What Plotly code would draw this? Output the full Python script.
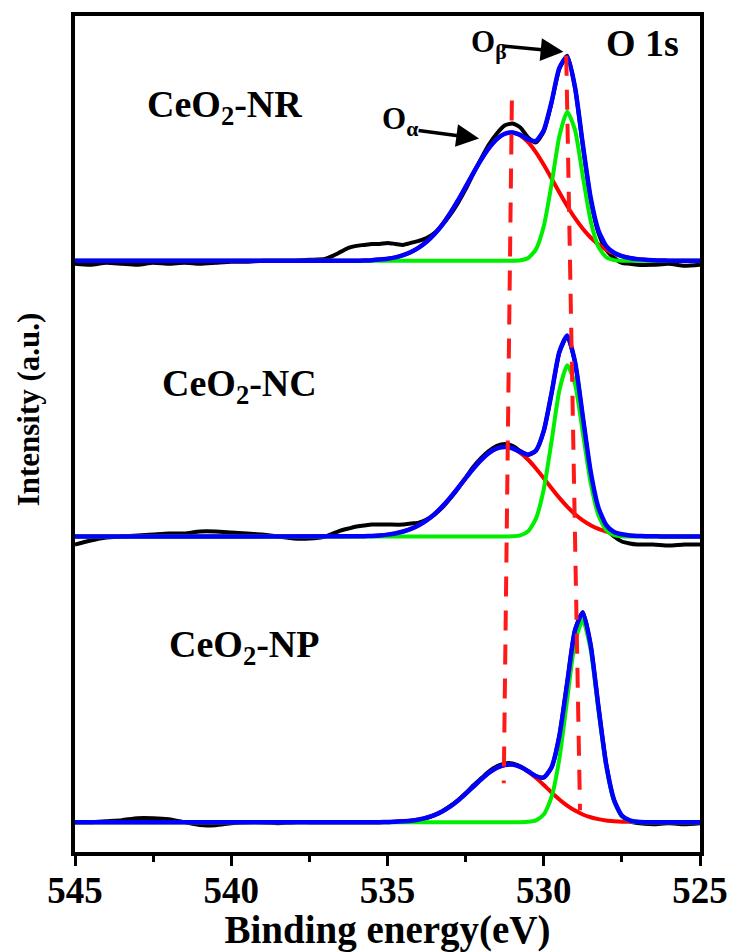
import plotly.graph_objects as go

# ---------------- data (heights above each spectrum's baseline, a.u.) ----------------
samples = ["CeO<sub>2</sub>-NR", "CeO<sub>2</sub>-NC", "CeO<sub>2</sub>-NP"]
offsets = [594, 317, 30]

# common energy grid for the fitted components (eV)
fit_x = [545.0, 536.00, 535.75, 535.50, 535.25, 535.00, 534.75, 534.50, 534.25, 534.00,
         533.75, 533.50, 533.25, 533.00, 532.75, 532.50, 532.25, 532.00, 531.75,
         531.50, 531.25, 531.00, 530.75, 530.50, 530.25, 530.00, 529.75, 529.50,
         529.25, 529.00, 528.75, 528.50, 528.25, 528.00, 527.75, 527.50, 527.25,
         527.00, 526.75, 526.50, 526.25, 526.00, 525.0]

# ---- CeO2-NR ----
nr_red = [0, 0.2, 0.4, 0.7, 1.3, 2.1, 3.5, 5.7, 8.8, 13.2, 19.1, 26.7, 36.2, 47.6, 60.4,
          74.3, 88.4, 101.8, 113.4, 122.3, 127.7, 129.0, 126.0, 119.2, 109.0, 96.6, 82.8,
          68.6, 55.1, 42.8, 32.2, 23.4, 16.5, 11.2, 7.4, 4.7, 2.9, 1.7, 1.0, 0.6, 0.3, 0.2, 0]
nr_green = [0, 0, 0, 0, 0, 0, 0, 0, 0, 0, 0, 0, 0, 0, 0, 0, 0, 0, 0, 0, 0, 0,
            0.5, 2.8, 11.5, 34.7, 76.9, 125.3, 149.9, 131.6, 84.9, 40.2, 14.0, 3.6, 0.7,
            0.1, 0, 0, 0, 0, 0, 0, 0]
nr_blue = [0, 0.2, 0.4, 0.7, 1.3, 2.1, 3.5, 5.7, 8.8, 13.2, 19.1, 26.7, 36.2, 47.6, 60.4,
           74.3, 88.4, 101.8, 113.4, 122.3, 127.7, 129.0, 126.5, 122.0, 120.5, 131.3, 159.7,
           193.9, 205.0, 174.4, 117.1, 63.6, 30.5, 14.8, 8.1, 4.8, 2.9, 1.7, 1.0, 0.6, 0.3,
           0.2, 0]
nr_exp_x = [545, 544.5, 544, 543.5, 543, 542.5, 542, 541.5, 541, 540.5, 540, 539.5, 539,
            538.5, 538, 537.5, 537, 536.75, 536.5, 536.25, 536, 535.75, 535.5, 535.25, 535,
            534.75, 534.5, 534.25, 534, 533.75, 533.5, 533.25, 533, 532.75, 532.5, 532.25,
            532, 531.75, 531.5, 531.25, 531, 530.75, 530.5, 530.25, 530, 529.75, 529.5,
            529.25, 529, 528.75, 528.5, 528.25, 528, 527.75, 527.5, 527.25, 527, 526.5, 526,
            525.5, 525]
nr_exp = [-3, -4, -2, -3, -4, -2, -3, -2, -3, -2, -1, -1, 0, 0, 0, 1, 2, 5, 9, 13, 15, 16,
          17, 17, 18, 17, 16, 18, 20, 23, 28, 36, 46, 58, 72, 88, 103, 117, 128, 136, 138,
          134, 124, 119, 130, 159, 193, 206, 174, 116, 62, 28, 11, 3, -2, -3, -4, -4, -3,
          -5, -4]

# ---- CeO2-NC ----
nc_red = [0, 0.2, 0.3, 0.6, 1.1, 1.9, 3.1, 5.0, 7.6, 11.3, 16.2, 22.4, 30.0, 38.8, 48.5,
          58.6, 68.4, 77.1, 84.0, 88.5, 90.0, 88.5, 84.0, 77.1, 68.4, 58.6, 48.5, 38.8, 30.0,
          22.4, 16.2, 11.3, 7.6, 5.0, 3.1, 1.9, 1.1, 0.6, 0.3, 0.2, 0.1, 0, 0]
nc_green = [0, 0, 0, 0, 0, 0, 0, 0, 0, 0, 0, 0, 0, 0, 0, 0, 0, 0, 0, 0, 0, 0.2,
            1.1, 5.2, 18.0, 47.5, 95.6, 146.9, 172.0, 153.3, 104.4, 54.1, 21.4, 6.5, 1.5,
            0.3, 0, 0, 0, 0, 0, 0, 0]
nc_blue = [0, 0.2, 0.3, 0.6, 1.1, 1.9, 3.1, 5.0, 7.6, 11.3, 16.2, 22.4, 30.0, 38.8, 48.5,
           58.6, 68.4, 77.1, 84.0, 88.5, 90.0, 88.7, 85.1, 82.3, 86.4, 106.1, 144.1, 185.7,
           202.0, 175.7, 120.6, 65.4, 29.0, 11.5, 4.6, 2.2, 1.1, 0.6, 0.3, 0.2, 0.1, 0, 0]
nc_exp_x = [545, 544.75, 544.5, 544, 543.5, 543, 542.5, 542, 541.5, 541, 540.5, 540, 539.5,
            539, 538.5, 538, 537.5, 537, 536.75, 536.5, 536.25, 536, 535.75, 535.5, 535,
            534.5, 534.25, 534, 533.75, 533.5, 533.25, 533, 532.75, 532.5, 532.25, 532,
            531.75, 531.5, 531.25, 531, 530.75, 530.5, 530.25, 530, 529.75, 529.5, 529.25,
            529, 528.75, 528.5, 528.25, 528, 527.75, 527.5, 527.25, 527, 526.5, 526, 525.5,
            525]
nc_exp = [-8, -6, -4, -1, 0, 1, 2, 3, 3, 5, 5, 4, 3, 2, 0, -2, -2, 0, 3, 6, 8, 10, 11, 12,
          12, 12, 13, 14, 17, 22, 29, 38, 48, 59, 70, 79, 86, 91, 93, 91, 86, 82, 86, 106,
          144, 185, 201, 175, 119, 63, 26, 8, 0, -5, -7, -8, -8, -9, -8, -8]

# ---- CeO2-NP ----
np_red = [0, 0, 0, 0, 0, 0.2, 0.4, 0.9, 1.5, 2.7, 4.5, 7.1, 10.7, 15.5, 21.5, 28.4, 35.8,
          43.1, 49.7, 54.7, 57.5, 57.8, 55.5, 50.9, 44.5, 37.3, 29.8, 22.8, 16.6, 11.6, 7.7,
          4.9, 3.0, 1.7, 1.0, 0.5, 0.3, 0.1, 0, 0, 0, 0, 0]
np_green = [0, 0, 0, 0, 0, 0, 0, 0, 0, 0, 0, 0, 0, 0, 0, 0, 0, 0, 0, 0, 0, 0, 0,
            0.3, 1.8, 7.6, 25.3, 63.8, 123.2, 181.0, 203.0, 173.3, 112.8, 56.0, 21.3, 6.1,
            1.4, 0.2, 0, 0, 0, 0, 0]
np_blue = [0, 0, 0, 0, 0, 0.2, 0.4, 0.9, 1.5, 2.7, 4.5, 7.1, 10.7, 15.5, 21.5, 28.4, 35.8,
           43.1, 49.7, 54.7, 57.5, 57.8, 55.5, 51.2, 46.3, 44.9, 55.1, 86.6, 139.8, 192.6,
           210.7, 178.2, 115.8, 57.7, 22.3, 6.6, 1.7, 0.3, 0, 0, 0, 0, 0]
np_exp_x = [545, 544.5, 544, 543.5, 543, 542.5, 542, 541.5, 541, 540.5, 540, 539.5, 539,
            538.5, 538, 537.5, 537, 536.5, 536, 535.5, 535, 534.5, 534, 533.75, 533.5,
            533.25, 533, 532.75, 532.5, 532.25, 532, 531.75, 531.5, 531.25, 531, 530.75,
            530.5, 530.25, 530, 529.75, 529.5, 529.25, 529, 528.75, 528.5, 528.25, 528,
            527.75, 527.5, 527.25, 527, 526.5, 526, 525.5, 525]
np_exp = [0, 0, 1, 2, 4, 4, 3, 0, -3, -3, -1, 0, 0, -1, 0, 0, 0, 0, 0, 0, 0, 1, 2, 4, 7,
          11, 16, 22, 29, 37, 44, 51, 56, 59, 59, 56, 51, 46, 45, 55, 87, 140, 193, 211,
          178, 116, 58, 22, 6, 1, -1, -2, -1, -2, -1]

# guide lines for O_alpha and O_beta positions (eV, y)
oa_line_x = [531.02, 531.28]
oa_line_y = [755, 69]
ob_line_x = [529.28, 528.84]
ob_line_y = [800, 42]

x_ticks = [545, 540, 535, 530, 525]

# ---------------- figure ----------------
FONT = "'Liberation Serif', 'Times New Roman', Times, serif"
fig = go.Figure()

panels = [
    (nr_exp_x, nr_exp, nr_red, nr_green, nr_blue),
    (nc_exp_x, nc_exp, nc_red, nc_green, nc_blue),
    (np_exp_x, np_exp, np_red, np_green, np_blue),
]
for (ex, ey, red, green, blue), off in zip(panels, offsets):
    fig.add_trace(go.Scatter(x=ex, y=[v + off for v in ey], mode="lines",
                             line=dict(color="#000000", width=4, shape="spline", smoothing=0.6),
                             showlegend=False, hoverinfo="skip"))
    fig.add_trace(go.Scatter(x=fit_x, y=[v + off for v in red], mode="lines",
                             line=dict(color="#ff0000", width=4, shape="spline", smoothing=0.6),
                             showlegend=False, hoverinfo="skip"))
    fig.add_trace(go.Scatter(x=fit_x, y=[v + off for v in green], mode="lines",
                             line=dict(color="#00ee00", width=4, shape="spline", smoothing=0.6),
                             showlegend=False, hoverinfo="skip"))
    fig.add_trace(go.Scatter(x=fit_x, y=[v + off for v in blue], mode="lines",
                             line=dict(color="#0000ff", width=4.5, shape="spline", smoothing=0.6),
                             showlegend=False, hoverinfo="skip"))

for lx, ly in [(oa_line_x, oa_line_y), (ob_line_x, ob_line_y)]:
    fig.add_trace(go.Scatter(x=lx, y=ly, mode="lines",
                             line=dict(color="#ff1a1a", width=4, dash="20px,14px"),
                             showlegend=False, hoverinfo="skip"))

# sample labels and annotations
label_pos = [(540.21, 749), (539.74, 468), (539.58, 206)]
for name, (lx, ly) in zip(samples, label_pos):
    fig.add_annotation(x=lx, y=ly, text=name, showarrow=False,
                       font=dict(family=FONT, size=38, color="black", weight="bold"))

fig.add_annotation(x=526.84, y=813, text="O 1s", showarrow=False,
                   font=dict(family=FONT, size=38, color="black", weight="bold"))

# O_alpha / O_beta labels
fig.add_annotation(x=534.6, y=735, text="O<sub>α</sub>", showarrow=False,
                   font=dict(family=FONT, size=31, color="black", weight="bold"))
fig.add_annotation(x=531.75, y=812, text="O<sub>β</sub>", showarrow=False,
                   font=dict(family=FONT, size=31, color="black", weight="bold"))
# arrows
fig.add_annotation(x=532.07, y=717, ax=-62, ay=-8, text="", showarrow=True,
                   arrowhead=2, arrowsize=1.3, arrowwidth=3.5, arrowcolor="black")
fig.add_annotation(x=529.37, y=804, ax=-62, ay=-6, text="", showarrow=True,
                   arrowhead=2, arrowsize=1.3, arrowwidth=3.5, arrowcolor="black")

# y-axis title (placed as rotated text, slightly above the vertical centre as in the source)
fig.add_annotation(xref="paper", yref="paper", x=-0.0745, y=0.530, text="Intensity (a.u.)",
                   textangle=-90, showarrow=False, xanchor="center", yanchor="middle",
                   font=dict(family=FONT, size=31, color="black", weight="bold"))

fig.update_layout(
    width=740, height=952,
    margin=dict(l=75, r=34, t=12, b=100),
    paper_bgcolor="white", plot_bgcolor="white",
    font=dict(family=FONT, color="black"),
    xaxis=dict(
        range=[545, 525], tickvals=x_ticks, ticks="outside", ticklen=10, tickwidth=3,
        tickcolor="black", showline=True, linecolor="black", linewidth=3.5, mirror=True,
        showgrid=False, zeroline=False, ticklabelstandoff=-7,
        minor=dict(dtick=2.5, ticks="outside", ticklen=6, tickwidth=3, tickcolor="black",
                   showgrid=False),
        tickfont=dict(family=FONT, size=37, color="black", weight="bold"),
        title=dict(text="Binding energy(eV)", standoff=0,
                   font=dict(family=FONT, size=39, color="black", weight="bold")),
    ),
    yaxis=dict(
        range=[0, 840], showticklabels=False, ticks="", showgrid=False, zeroline=False,
        showline=True, linecolor="black", linewidth=3.5, mirror=True,
    ),
)

fig.write_html("out.html")
